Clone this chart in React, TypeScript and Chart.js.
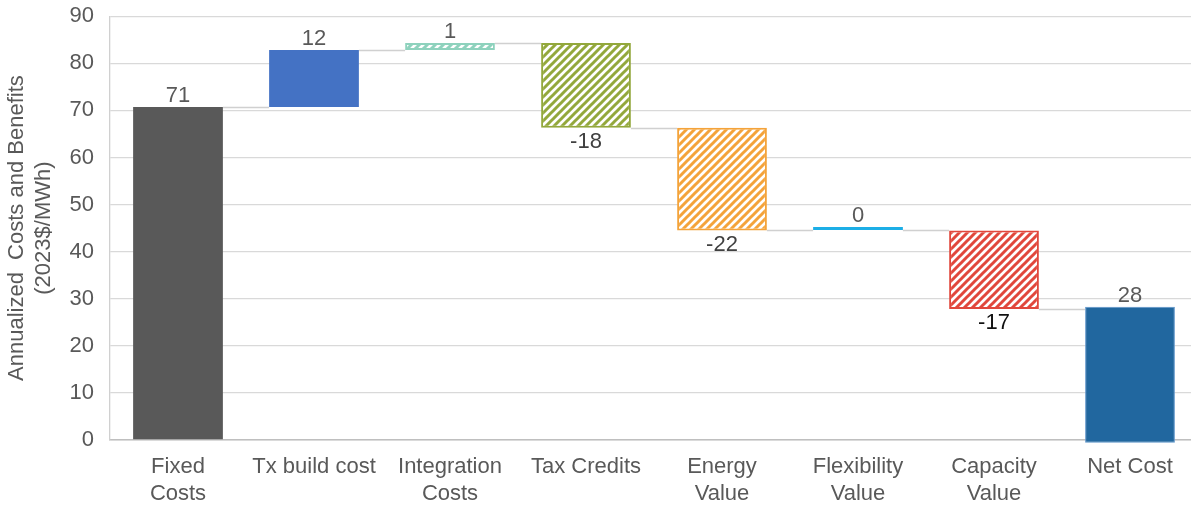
import React, { useEffect, useRef } from "react";
import { Chart, registerables } from "chart.js";

Chart.register(...registerables);

const categories: (string | string[])[] = [
  ["Fixed", "Costs"],
  "Tx build cost",
  ["Integration", "Costs"],
  "Tax Credits",
  ["Energy", "Value"],
  ["Flexibility", "Value"],
  ["Capacity", "Value"],
  "Net Cost",
];
const barStarts = [0, 70.7, 82.8, 84.3, 66.3, 44.6, 44.5, -0.6];
const barEnds = [70.7, 82.8, 84.3, 66.3, 44.5, 44.6, 27.8, 28.3];
const valueLabels = ["71", "12", "1", "-18", "-22", "0", "-17", "28"];
const yTicks = [0, 10, 20, 30, 40, 50, 60, 70, 80, 90];

const barColors = ["#595959", "#4472C4", "#8ED2BD", "#93A83C", "#F4A33A", "#1CAEE6", "#E1473C", "#21679F"];
const hatched = [false, false, true, true, true, false, true, false];
const labelColors = ["#595959", "#595959", "#595959", "#404040", "#404040", "#595959", "#111111", "#595959"];

const FONT = "'Liberation Sans', Arial, sans-serif";

function makePattern(color: string): CanvasPattern | string {
  const c = document.createElement("canvas");
  c.width = 8;
  c.height = 8;
  const ctx = c.getContext("2d");
  if (!ctx) return color;
  ctx.fillStyle = "#ffffff";
  ctx.fillRect(0, 0, 8, 8);
  ctx.strokeStyle = color;
  ctx.lineWidth = 3;
  ctx.beginPath();
  ctx.moveTo(-1, 9);
  ctx.lineTo(9, -1);
  ctx.moveTo(-2, 2);
  ctx.lineTo(2, -2);
  ctx.moveTo(6, 10);
  ctx.lineTo(10, 6);
  ctx.stroke();
  const p = ctx.createPattern(c, "repeat");
  return p || color;
}

const waterfallPlugin = {
  id: "waterfallExtras",
  beforeDatasetsDraw(chart: any) {
    const ctx = chart.ctx;
    const meta = chart.getDatasetMeta(0);
    const y = chart.scales.y;
    ctx.save();
    ctx.strokeStyle = "#D0D0D0";
    ctx.lineWidth = 1.5;
    for (let i = 0; i < meta.data.length - 1; i++) {
      const a = meta.data[i];
      const b = meta.data[i + 1];
      const level = barEnds[i];
      const py = Math.round(y.getPixelForValue(level)) + 0.5;
      ctx.beginPath();
      ctx.moveTo(a.x + a.width / 2, py);
      ctx.lineTo(b.x - b.width / 2, py);
      ctx.stroke();
    }
    ctx.restore();
  },
  afterDatasetsDraw(chart: any) {
    const ctx = chart.ctx;
    const meta = chart.getDatasetMeta(0);
    const y = chart.scales.y;
    ctx.save();
    ctx.font = "22px " + FONT;
    ctx.textAlign = "center";
    meta.data.forEach((el: any, i: number) => {
      const s = barStarts[i];
      const e = barEnds[i];
      const neg = e < s;
      ctx.fillStyle = labelColors[i];
      if (neg) {
        ctx.textBaseline = "top";
        ctx.fillText(valueLabels[i], el.x, y.getPixelForValue(Math.min(s, e)) + 3);
      } else {
        ctx.textBaseline = "bottom";
        const top = y.getPixelForValue(Math.max(s, e));
        ctx.fillText(valueLabels[i], el.x, top - (e === s ? 3 : 0));
      }
    });
    ctx.restore();
  },
};

export default function App() {
  const ref = useRef<HTMLCanvasElement | null>(null);
  useEffect(() => {
    document.body.style.margin = "0";
    document.body.style.overflow = "hidden";
    if (!ref.current) return;
    const bg = barColors.map((c, i) => (hatched[i] ? makePattern(c) : c));
    const chart = new Chart(ref.current, {
      type: "bar",
      data: {
        labels: categories as any,
        datasets: [
          {
            data: barStarts.map((s, i) => [s, barEnds[i]]) as any,
            backgroundColor: bg as any,
            borderColor: barColors.map((c, i) => (i === 7 ? "#5B93C9" : c)),
            borderWidth: barColors.map((_, i) => (hatched[i] ? 2 : i === 7 ? 1 : 0)),
            borderSkipped: false,
            minBarLength: 3,
            barPercentage: 0.66,
            categoryPercentage: 1,
            clip: { left: 0, top: 0, right: 0, bottom: 6 } as any,
          },
        ],
      },
      options: {
        responsive: false,
        animation: false,
        devicePixelRatio: 1,
        layout: { padding: { top: 0, left: 0, right: 0, bottom: 0 } },
        plugins: {
          legend: { display: false },
          tooltip: { enabled: false },
        },
        scales: {
          x: {
            grid: { display: false },
            border: { display: true, color: "#BFBFBF", width: 1.5 },
            ticks: {
              color: "#595959",
              font: { family: FONT, size: 22 },
              padding: 6,
              maxRotation: 0,
              autoSkip: false,
            },
            afterFit(scale: any) {
              scale.height = 66;
            },
          },
          y: {
            min: 0,
            max: 90,
            afterBuildTicks(scale: any) {
              scale.ticks = yTicks.map((v) => ({ value: v }));
            },
            grid: {
              color: "#D9D9D9",
              lineWidth: 1.3,
              drawTicks: true,
              tickLength: 13,
              tickColor: "rgba(0,0,0,0)",
            },
            border: { display: true, color: "#D0D0D0", width: 1.3 },
            ticks: {
              color: "#595959",
              font: { family: FONT, size: 22 },
              padding: 3,
            },
            title: {
              display: true,
              text: ["Annualized  Costs and Benefits", "(2023$/MWh)"],
              color: "#595959",
              font: { family: FONT, size: 22 },
              padding: { top: 4, bottom: 0 },
            },
            afterFit(scale: any) {
              scale.width = 110;
            },
          },
        },
      },
      plugins: [waterfallPlugin],
    });
    return () => chart.destroy();
  }, []);
  return (
    <div style={{ width: 1198, height: 506 }}>
      <canvas ref={ref} width={1198} height={506} />
    </div>
  );
}
